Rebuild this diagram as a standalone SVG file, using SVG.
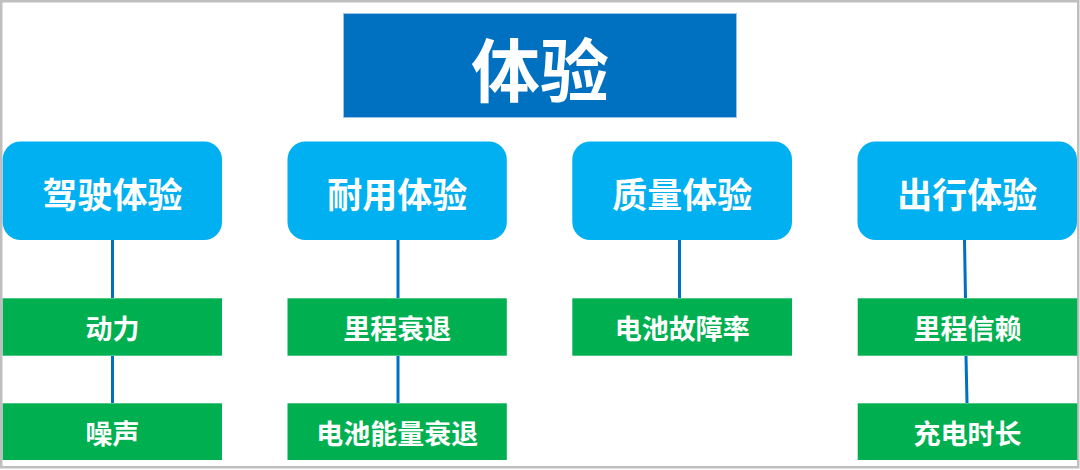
<svg xmlns="http://www.w3.org/2000/svg" width="1080" height="470" viewBox="0 0 1080 470">
<style>
text{font-family:"Noto Sans CJK SC","Noto Sans",sans-serif;font-weight:bold;fill:#fff;text-anchor:middle;dominant-baseline:central}
.cat{fill:#00B0F0}
.leaf{fill:#00B050}
.cat-t{font-size:35px}
.leaf-t{font-size:27px}
.conn line{stroke:#0070C0;stroke-width:3}
</style>
<rect x="1.25" y="1.25" width="1077" height="466" fill="#fff" stroke="#BFBFBF" stroke-width="2.5"/>
<g class="conn">
<line x1="112.5" y1="240" x2="112.5" y2="298"/>
<line x1="112.5" y1="356" x2="112.5" y2="403"/>
<line x1="398" y1="240" x2="398" y2="298"/>
<line x1="398" y1="356" x2="398" y2="403"/>
<line x1="679.5" y1="240" x2="679.5" y2="298"/>
<line x1="964.5" y1="240" x2="965.5" y2="298"/>
<line x1="966" y1="356" x2="967" y2="403"/>
</g>
<g id="title">
<rect x="343.5" y="13.5" width="393" height="104" fill="#0070C0" stroke="#9DC3E6" stroke-width="1"/>
<text x="540" y="67" style="font-size:69px">体验</text>
</g>
<g id="c1"><rect class="cat" x="2.7" y="141.5" width="219.3" height="98.5" rx="18"/><text class="cat-t" x="112.4" y="192">驾驶体验</text></g>
<g id="c2"><rect class="cat" x="287.5" y="141.5" width="219.3" height="98.5" rx="18"/><text class="cat-t" x="397.2" y="192">耐用体验</text></g>
<g id="c3"><rect class="cat" x="572.3" y="141.5" width="219.7" height="98.5" rx="18"/><text class="cat-t" x="682.2" y="192">质量体验</text></g>
<g id="c4"><rect class="cat" x="857.5" y="141.5" width="219.5" height="98.5" rx="18"/><text class="cat-t" x="967.2" y="192">出行体验</text></g>
<g id="l1"><rect class="leaf" x="2.7" y="298.3" width="219.3" height="57.4"/><text class="leaf-t" x="112.4" y="327.5">动力</text></g>
<g id="l2"><rect class="leaf" x="2.7" y="403.3" width="219.3" height="56.7"/><text class="leaf-t" x="112.4" y="432">噪声</text></g>
<g id="l3"><rect class="leaf" x="287.5" y="298.3" width="219.3" height="57.4"/><text class="leaf-t" x="397.2" y="327.5">里程衰退</text></g>
<g id="l4"><rect class="leaf" x="287.5" y="403.3" width="219.3" height="56.7"/><text class="leaf-t" x="397.2" y="432">电池能量衰退</text></g>
<g id="l5"><rect class="leaf" x="572.3" y="298.3" width="219.7" height="57.4"/><text class="leaf-t" x="682.2" y="327.5">电池故障率</text></g>
<g id="l6"><rect class="leaf" x="857.7" y="298.3" width="219.5" height="57.4"/><text class="leaf-t" x="967.4" y="327.5">里程信赖</text></g>
<g id="l7"><rect class="leaf" x="857.7" y="403.3" width="219.5" height="56.7"/><text class="leaf-t" x="967.4" y="432">充电时长</text></g>
</svg>
